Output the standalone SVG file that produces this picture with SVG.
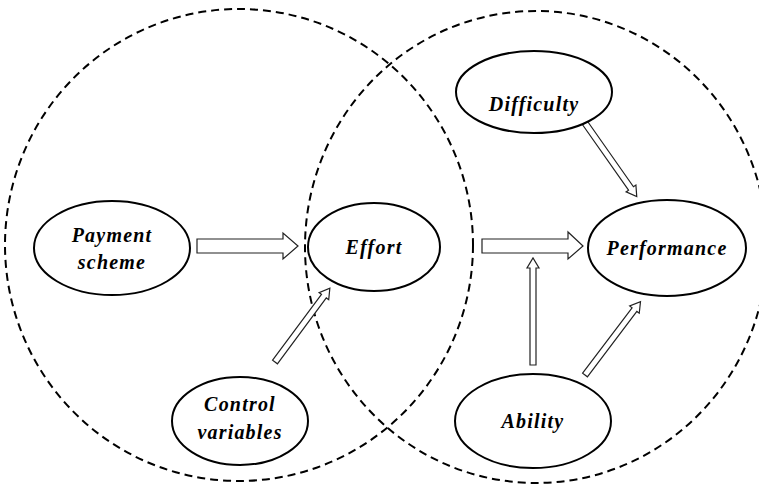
<svg xmlns="http://www.w3.org/2000/svg" width="759" height="487" viewBox="0 0 759 487">
<style>
.region{fill:none;stroke:#000;stroke-width:2;stroke-dasharray:8 5}
.node{fill:#fff;stroke:#000;stroke-width:2}
.lbl{font-family:"Liberation Serif","DejaVu Serif",serif;font-style:italic;font-weight:bold;font-size:20px;letter-spacing:1.2px;text-anchor:middle;fill:#000}
.arr{fill:#fff;stroke:#222;stroke-width:1.2;stroke-linejoin:miter}
</style>
<rect width="759" height="487" fill="#fff"/>
<g id="regions">
<ellipse class="region" cx="239" cy="245" rx="234" ry="236"/>
<ellipse class="region" cx="536" cy="247" rx="231" ry="236"/>
</g>
<g id="connectors">
<polygon class="arr" points="197,239 283,239 283,233 298,246 283,259 283,253 197,253"/>
<polygon class="arr" points="482,239 568,239 568,232 583,246 568,259 568,253 482,253"/>
<polygon class="arr" transform="translate(533,365) rotate(-90)" points="0,-3 97,-3 97,-6 107,0 97,6 97,3 0,3"/>
<polygon class="arr" transform="translate(275,362) rotate(-53.4)" points="0,-3 82,-3 82,-6 92,0 82,6 82,3 0,3"/>
<polygon class="arr" transform="translate(585,123) rotate(54.9)" points="0,-3 80,-3 80,-6 90,0 80,6 80,3 0,3"/>
<polygon class="arr" transform="translate(585,375) rotate(-52.9)" points="0,-3 82,-3 82,-6 92,0 82,6 82,3 0,3"/>
</g>
<g id="payment">
<ellipse class="node" cx="112" cy="248" rx="78" ry="47"/>
<text class="lbl" x="112" y="242">Payment</text>
<text class="lbl" x="112" y="269">scheme</text>
</g>
<g id="effort">
<ellipse class="node" cx="374" cy="247" rx="66" ry="44"/>
<text class="lbl" x="374" y="254">Effort</text>
</g>
<g id="performance">
<ellipse class="node" cx="667" cy="248" rx="79" ry="48"/>
<text class="lbl" x="667" y="255">Performance</text>
</g>
<g id="difficulty">
<ellipse class="node" cx="534" cy="92" rx="78" ry="41"/>
<text class="lbl" x="534" y="111">Difficulty</text>
</g>
<g id="control">
<ellipse class="node" cx="240" cy="421" rx="68" ry="44"/>
<text class="lbl" x="240" y="411">Control</text>
<text class="lbl" x="240" y="439">variables</text>
</g>
<g id="ability">
<ellipse class="node" cx="533" cy="421" rx="78" ry="47"/>
<text class="lbl" x="533" y="428">Ability</text>
</g>
</svg>
